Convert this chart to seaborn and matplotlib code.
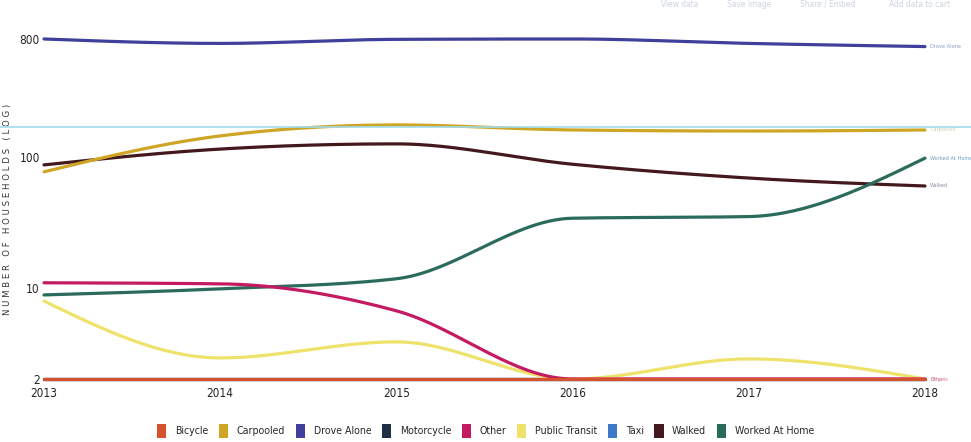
import numpy as np
import pandas as pd
import matplotlib.pyplot as plt
import seaborn as sns
from matplotlib.patches import Patch
from matplotlib.lines import Line2D
from matplotlib import font_manager

# Values (households, log scale)
years = [2013, 2014, 2015, 2016, 2017, 2018]
modes = ['Bicycle', 'Carpooled', 'Drove Alone', 'Motorcycle', 'Other',
         'Public Transit', 'Taxi', 'Walked', 'Worked At Home']

bicycle = [2, 2, 2, 2, 2, 2]
carpooled = [77, 145, 176, 161, 158, 161]
drove_alone = [800, 740, 795, 800, 740, 700]
motorcycle = [2, 2, 2, 2, 2, 2]
other = [10.9, 10.7, 6.65, 2, 2, 2]
public_transit = [7.9, 2.9, 3.85, 2, 2.85, 2]
taxi = [2, 2, 2, 2, 2, 2]
walked = [87, 115, 126, 88, 69, 60]
worked_at_home = [8.8, 9.8, 11.7, 34, 35, 98]

colors = ['#d4532e', '#cfa526', '#403f9c', '#1d2f47', '#c41a62',
          '#eee26a', '#3d78c9', '#43191d', '#2a6b5c']

series = {
    'Bicycle': bicycle, 'Carpooled': carpooled, 'Drove Alone': drove_alone,
    'Motorcycle': motorcycle, 'Other': other, 'Public Transit': public_transit,
    'Taxi': taxi, 'Walked': walked, 'Worked At Home': worked_at_home,
}


# monotone cubic curve (like d3 curveMonotoneX) in log space, only for drawing
def smooth(x, y, n=60):
    x = np.asarray(x, float)
    y = np.log10(np.asarray(y, float))
    h = np.diff(x)
    d = np.diff(y) / h
    m = np.zeros(len(x))
    for i in range(1, len(x) - 1):
        p = (d[i - 1] * h[i] + d[i] * h[i - 1]) / (h[i - 1] + h[i])
        m[i] = (np.sign(d[i - 1]) + np.sign(d[i])) * min(abs(d[i - 1]), abs(d[i]), 0.5 * abs(p))
    m[0] = (3 * d[0] - m[1]) / 2
    m[-1] = (3 * d[-1] - m[-2]) / 2
    xs, ys = [], []
    for i in range(len(x) - 1):
        t = np.linspace(0, 1, n, endpoint=(i == len(x) - 2))
        h00 = 2 * t**3 - 3 * t**2 + 1
        h10 = t**3 - 2 * t**2 + t
        h01 = -2 * t**3 + 3 * t**2
        h11 = t**3 - t**2
        xs.append(x[i] + t * h[i])
        ys.append(h00 * y[i] + h10 * h[i] * m[i] + h01 * y[i + 1] + h11 * h[i] * m[i + 1])
    return np.concatenate(xs), 10 ** np.concatenate(ys)


rows = []
for mode in modes:
    xs, ys = smooth(years, series[mode])
    rows.append(pd.DataFrame({'year': xs, 'households': ys, 'mode': mode}))
df = pd.concat(rows, ignore_index=True)

sns.set_style('white')
# narrow font if there is one, otherwise DejaVu Sans condensed
names = {f.name for f in font_manager.fontManager.ttflist}
narrow = 'Liberation Sans Narrow' if 'Liberation Sans Narrow' in names else 'DejaVu Sans'
plt.rcParams['font.family'] = [narrow, 'DejaVu Sans']
plt.rcParams['font.stretch'] = 'condensed'

fig = plt.figure(figsize=(9.71, 4.42), dpi=100)
ax = fig.add_axes([0.0453, 0.1425, 0.9073, 0.7693])

# draw order: put Bicycle on top of Taxi / Motorcycle at the bottom
draw_order = ['Taxi', 'Motorcycle', 'Walked', 'Carpooled', 'Drove Alone',
              'Worked At Home', 'Public Transit', 'Other', 'Bicycle']
palette = dict(zip(modes, colors))
for mode in draw_order:
    sns.lineplot(data=df[df['mode'] == mode], x='year', y='households',
                 color=palette[mode], linewidth=2.3, ax=ax, legend=False,
                 sort=False, estimator=None, clip_on=False)

ax.set_yscale('log')
ax.set_ylim(2, 800)
ax.set_xlim(2013, 2018)
ax.set_yticks([2, 10, 100, 800])
ax.set_yticklabels(['2', '10', '100', '800'])
ax.minorticks_off()
ax.set_xticks(years)
ax.set_xticklabels([str(y) for y in years])
ax.tick_params(length=0, labelsize=8.5, colors='#222222')
ax.tick_params(axis='y', pad=3)
ax.tick_params(axis='x', pad=6)
for s in ax.spines.values():
    s.set_visible(False)
ax.set_xlabel('')
ax.set_ylabel('N U M B E R   O F   H O U S E H O L D S   ( L O G )',
              fontsize=6.8, color='#333333')
ax.yaxis.set_label_coords(-0.036, 0.5)

# line end labels (Other and Bicycle sit on top of each other, as in the source)
end_labels = [('Drove Alone', drove_alone[-1], '#8a9cc2'),
              ('Carpooled', carpooled[-1], '#c9d3c0'),
              ('Worked At Home', worked_at_home[-1], '#6f9cc0'),
              ('Walked', walked[-1], '#9a8aa8'),
              ('Other', other[-1], '#d06aa0'),
              ('Bicycle', bicycle[-1], '#d89a9a')]
for name, v, c in end_labels:
    ax.text(2018.03, v, name, fontsize=4.1, color=c, va='center', ha='left',
            clip_on=False)

# highlight line across the figure
fig.add_artist(Line2D([0, 1], [1 - 127 / 442, 1 - 127 / 442], color='#9fdcec',
                      linewidth=1.2, transform=fig.transFigure))

# toolbar text (faint)
for xx, txt in [(0.70, 'View data'), (0.772, 'Save image'), (0.852, 'Share / Embed'),
                (0.947, 'Add data to cart')]:
    fig.text(xx, 0.99, txt, fontsize=6, color='#cdd4e0', ha='center', va='center')

handles = [Patch(facecolor=c, edgecolor='none') for c in colors]
fig.legend(handles, modes, loc='lower center', bbox_to_anchor=(0.5, -0.012), ncol=9,
           frameon=False, fontsize=7.6, handlelength=0.9, handleheight=1.7,
           handletextpad=0.8, columnspacing=1.0)

fig.savefig('out.png', dpi=100)
